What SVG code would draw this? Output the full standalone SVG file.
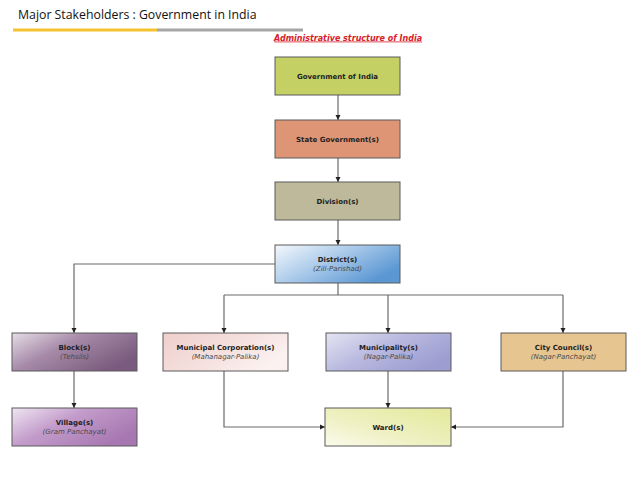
<svg xmlns="http://www.w3.org/2000/svg" width="638" height="479" viewBox="0 0 638 479">
<style>
.title{font-family:"Open Sans","Liberation Sans",sans-serif;font-size:12.3px;fill:#111}
.sub{font-family:"DejaVu Sans",Verdana,sans-serif;font-size:8px;font-weight:bold;font-style:italic;fill:#d8202a;text-decoration:underline}
.box{stroke:#5a5a5a;stroke-width:1}
.lb{font-family:"DejaVu Sans",Verdana,sans-serif;font-size:7px;font-weight:bold;fill:#222;text-anchor:middle}
.li{font-family:"DejaVu Sans",Verdana,sans-serif;font-size:7px;font-style:italic;fill:#4a4a4a;text-anchor:middle}
.c{fill:none;stroke:#6a6a6a;stroke-width:1.2}
</style>
<defs>
<marker id="ah" markerWidth="6" markerHeight="6" refX="5" refY="3" orient="auto" markerUnits="userSpaceOnUse">
<path d="M0,0.5 L5,3 L0,5.5 z" fill="#222"/>
</marker>
<linearGradient id="gDist" x1="0" y1="0" x2="1" y2="0.6"><stop offset="0" stop-color="#f4f8fc"/><stop offset="0.5" stop-color="#a9c9ea"/><stop offset="1" stop-color="#5a97d3"/></linearGradient>
<linearGradient id="gBlock" x1="0" y1="0" x2="1" y2="0.6"><stop offset="0" stop-color="#e6dde6"/><stop offset="0.45" stop-color="#a68aa8"/><stop offset="1" stop-color="#7a5a7e"/></linearGradient>
<linearGradient id="gMC" x1="0" y1="0" x2="1" y2="0.5"><stop offset="0" stop-color="#efcfcc"/><stop offset="0.6" stop-color="#f5e1df"/><stop offset="1" stop-color="#fbf1f0"/></linearGradient>
<linearGradient id="gMun" x1="0" y1="0" x2="1" y2="0.6"><stop offset="0" stop-color="#e4e4f3"/><stop offset="0.5" stop-color="#b9b9e0"/><stop offset="1" stop-color="#9d9dd2"/></linearGradient>
<linearGradient id="gVil" x1="0" y1="0" x2="1" y2="0.6"><stop offset="0" stop-color="#f0e6f2"/><stop offset="0.45" stop-color="#c39ccb"/><stop offset="1" stop-color="#a777b2"/></linearGradient>
<linearGradient id="gWard" x1="0" y1="1" x2="1" y2="0"><stop offset="0" stop-color="#fbfbec"/><stop offset="0.4" stop-color="#eff1c4"/><stop offset="1" stop-color="#e3e99a"/></linearGradient>
</defs>

<g id="header">
<text class="title" x="18" y="19">Major Stakeholders : Government in India</text>
<rect x="13" y="28.5" width="144" height="3" fill="#f5c330"/>
<rect x="157" y="28.5" width="146" height="3" fill="#a6a6a6"/>
<text class="sub" x="274" y="40.5">Administrative structure of India</text>
</g>

<g id="connectors">
<line class="c" x1="338" y1="95" x2="338" y2="120" marker-end="url(#ah)"/>
<line class="c" x1="338" y1="158" x2="338" y2="182" marker-end="url(#ah)"/>
<line class="c" x1="338" y1="220" x2="338" y2="245" marker-end="url(#ah)"/>
<polyline class="c" points="275,264 74,264 74,333" marker-end="url(#ah)"/>
<line class="c" x1="338" y1="283" x2="338" y2="295"/>
<line class="c" x1="224" y1="295" x2="563" y2="295"/>
<line class="c" x1="224" y1="295" x2="224" y2="333" marker-end="url(#ah)"/>
<line class="c" x1="388" y1="295" x2="388" y2="333" marker-end="url(#ah)"/>
<line class="c" x1="563" y1="295" x2="563" y2="333" marker-end="url(#ah)"/>
<line class="c" x1="74" y1="371" x2="74" y2="408" marker-end="url(#ah)"/>
<polyline class="c" points="224,371 224,427 325,427" marker-end="url(#ah)"/>
<line class="c" x1="388" y1="371" x2="388" y2="408" marker-end="url(#ah)"/>
<polyline class="c" points="563,371 563,427 451,427" marker-end="url(#ah)"/>
</g>

<g id="gov-india">
<rect class="box" x="275" y="57" width="125" height="38" fill="#c5d064"/>
<text class="lb" x="337.5" y="78.5">Government of India</text>
</g>
<g id="state-gov">
<rect class="box" x="275" y="120" width="125" height="38" fill="#de9576"/>
<text class="lb" x="337.5" y="141.5">State Government(s)</text>
</g>
<g id="division">
<rect class="box" x="275" y="182" width="125" height="38" fill="#bdb99a"/>
<text class="lb" x="337.5" y="203.5">Division(s)</text>
</g>
<g id="district">
<rect class="box" x="275" y="245" width="125" height="38" fill="url(#gDist)"/>
<text class="lb" x="337.5" y="262">District(s)</text>
<text class="li" x="337.5" y="271">(Zill-Parishad)</text>
</g>
<g id="block">
<rect class="box" x="12" y="333" width="125" height="38" fill="url(#gBlock)"/>
<text class="lb" x="74.5" y="349.5">Block(s)</text>
<text class="li" x="74.5" y="358.5">(Tehsils)</text>
</g>
<g id="municipal-corporation">
<rect class="box" x="163" y="333" width="125" height="38" fill="url(#gMC)"/>
<text class="lb" x="225.5" y="349.5">Municipal Corporation(s)</text>
<text class="li" x="225.5" y="358.5">(Mahanagar-Palika)</text>
</g>
<g id="municipality">
<rect class="box" x="326" y="333" width="125" height="38" fill="url(#gMun)"/>
<text class="lb" x="388.5" y="349.5">Municipality(s)</text>
<text class="li" x="388.5" y="358.5">(Nagar-Palika)</text>
</g>
<g id="city-council">
<rect class="box" x="501" y="333" width="125" height="38" fill="#e7c591"/>
<text class="lb" x="563.5" y="349.5">City Council(s)</text>
<text class="li" x="563.5" y="358.5">(Nagar-Panchayat)</text>
</g>
<g id="village">
<rect class="box" x="12" y="408" width="125" height="38" fill="url(#gVil)"/>
<text class="lb" x="74.5" y="424.5">Village(s)</text>
<text class="li" x="74.5" y="433.5">(Gram Panchayat)</text>
</g>
<g id="ward">
<rect class="box" x="325" y="408" width="126" height="38" fill="url(#gWard)"/>
<text class="lb" x="388" y="429.5">Ward(s)</text>
</g>
</svg>
